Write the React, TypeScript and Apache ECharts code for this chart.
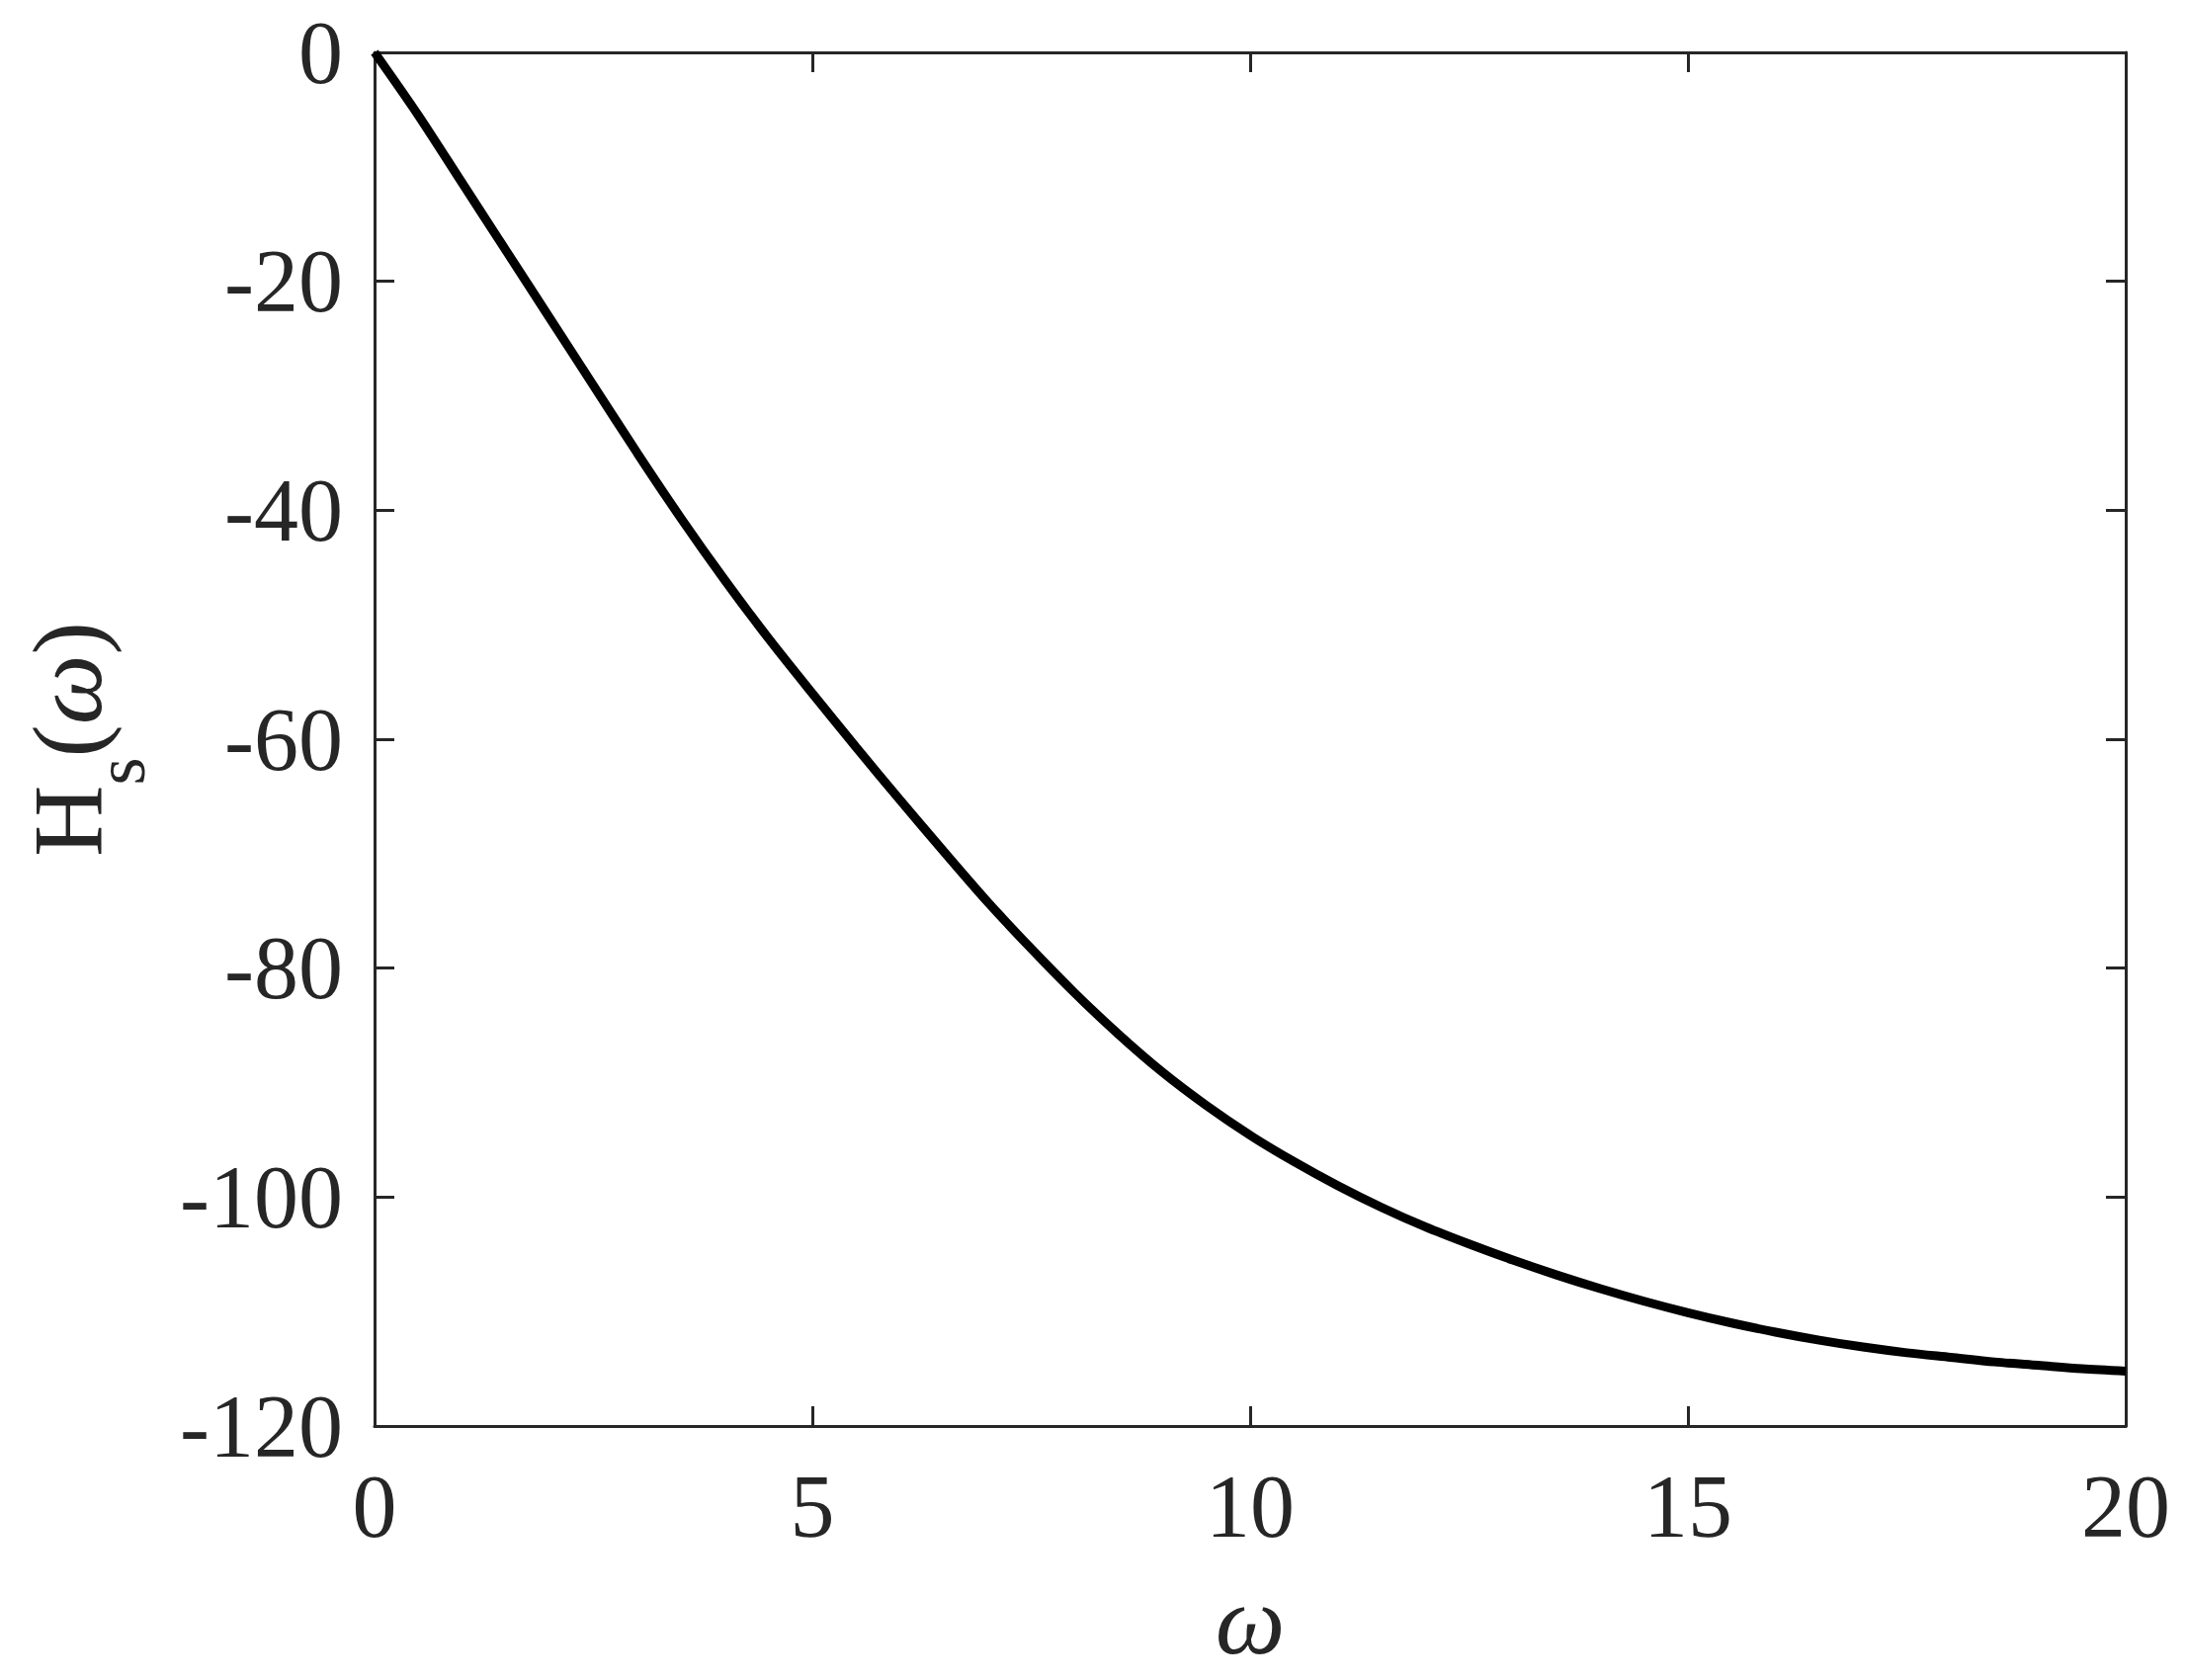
import React, { useEffect, useRef } from "react";
import * as echarts from "echarts";

const omega = [0, 0.5, 1.0, 1.5, 2.0, 2.5, 3.0, 3.5, 4.0, 4.5, 5.0, 5.5, 6.0, 6.5, 7.0, 7.5, 8.0, 8.5, 9.0, 9.5, 10.0, 10.5, 11.0, 11.5, 12.0, 12.5, 13.0, 13.5, 14.0, 14.5, 15.0, 15.5, 16.0, 16.5, 17.0, 17.5, 18.0, 18.5, 19.0, 19.5, 20.0];
const hs = [0, -5.5, -11.4, -17.3, -23.2, -29.1, -35.0, -40.7, -46.1, -51.2, -56.0, -60.7, -65.3, -69.8, -74.2, -78.3, -82.2, -85.8, -89.1, -92.0, -94.6, -96.9, -99.0, -100.9, -102.6, -104.1, -105.5, -106.8, -108.0, -109.1, -110.1, -111.0, -111.8, -112.5, -113.1, -113.6, -114.0, -114.4, -114.7, -115.0, -115.2];

const xTicks = { min: 0, max: 20, interval: 5 };
const yTicks = { min: -120, max: 0, interval: 20 };

const AXIS_COLOR = "#262626";
const FONT = "Liberation Serif";

export default function App() {
  const ref = useRef<HTMLDivElement>(null);
  useEffect(() => {
    if (!ref.current) return;
    const chart = echarts.init(ref.current, undefined, { renderer: "svg" });
    const axisLine = { show: true, onZero: false, lineStyle: { color: AXIS_COLOR, width: 3 } };
    const axisTick = { show: true, inside: true, length: 20, lineStyle: { color: AXIS_COLOR, width: 3 } };
    const label = { color: AXIS_COLOR, fontFamily: FONT, fontSize: 90 };
    chart.setOption({
      animation: false,
      backgroundColor: "#ffffff",
      grid: { left: 379, top: 53, right: 61, bottom: 257, containLabel: false, outerBoundsMode: "none" },
      xAxis: [
        {
          type: "value",
          ...xTicks,
          position: "bottom",
          axisLine,
          axisTick,
          splitLine: { show: false },
          axisLabel: { ...label, margin: 36 },
          name: "ω",
          nameLocation: "middle",
          nameGap: 146,
          nameMoveOverlap: false,
          nameTextStyle: { color: AXIS_COLOR, fontFamily: FONT, fontSize: 100, fontStyle: "italic" },
        },
        {
          type: "value",
          ...xTicks,
          position: "top",
          axisLine,
          axisTick,
          splitLine: { show: false },
          axisLabel: { show: false },
        },
      ],
      yAxis: [
        {
          type: "value",
          ...yTicks,
          position: "left",
          axisLine,
          axisTick,
          splitLine: { show: false },
          axisLabel: { ...label, margin: 32 },
          name: "{a|H}{s|s}{a|(}{w|ω}{a|)}",
          nameLocation: "middle",
          nameRotate: 90,
          nameGap: 221,
          nameMoveOverlap: false,
          nameTextStyle: {
            color: AXIS_COLOR,
            fontFamily: FONT,
            rich: {
              a: { fontFamily: FONT, fontSize: 100, lineHeight: 180, color: AXIS_COLOR, verticalAlign: "middle" },
              w: { fontFamily: FONT, fontSize: 100, lineHeight: 180, color: AXIS_COLOR, fontStyle: "italic", verticalAlign: "middle" },
              s: { fontFamily: FONT, fontSize: 72, lineHeight: 180, color: AXIS_COLOR, verticalAlign: "bottom" },
            },
          },
        },
        {
          type: "value",
          ...yTicks,
          position: "right",
          axisLine,
          axisTick,
          splitLine: { show: false },
          axisLabel: { show: false },
        },
      ],
      series: [
        {
          type: "line",
          data: omega.map((w, i) => [w, hs[i]]),
          smooth: 0.3,
          symbol: "none",
          lineStyle: { color: "#000000", width: 9 },
          clip: true,
        },
      ],
    });
    return () => chart.dispose();
  }, []);
  return (
    <div
      ref={ref}
      style={{ position: "fixed", left: 0, top: 0, width: 2212, height: 1700, background: "#fff" }}
    />
  );
}
